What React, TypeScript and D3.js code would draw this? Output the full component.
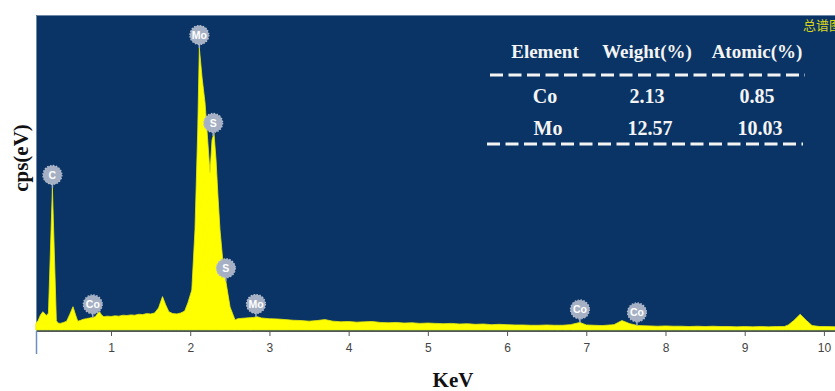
import React, { useEffect, useRef } from 'react';
import * as d3 from 'd3';

// EDS spectrum: [KeV, cps]
const spectrum: [number, number][] = [
  [0.05, 20], [0.08, 30], [0.11, 48], [0.14, 58], [0.17, 50], [0.19, 46], [0.21, 54],
  [0.26, 451], [0.31, 30], [0.33, 22], [0.36, 21], [0.4, 24],
  [0.44, 28], [0.48, 50], [0.52, 74], [0.55, 50], [0.58, 28], [0.61, 30], [0.65, 34],
  [0.69, 36], [0.73, 38], [0.77, 40], [0.8, 42], [0.83, 52], [0.855, 58], [0.88, 48],
  [0.91, 42], [0.95, 44], [1.0, 43], [1.05, 45], [1.1, 44], [1.15, 47], [1.2, 46],
  [1.25, 48], [1.3, 47], [1.35, 50], [1.4, 49], [1.45, 52], [1.5, 51], [1.55, 54],
  [1.6, 70], [1.65, 106], [1.69, 80], [1.73, 58], [1.78, 52], [1.83, 51], [1.88, 54],
  [1.93, 60], [1.97, 86], [2.02, 127], [2.06, 318], [2.095, 635], [2.115, 895],
  [2.15, 800], [2.187, 721], [2.25, 498], [2.275, 603], [2.3, 625], [2.326, 540],
  [2.351, 422], [2.376, 318], [2.414, 213], [2.461, 137], [2.503, 73], [2.566, 32],
  [2.6, 36], [2.7, 38], [2.8, 40], [2.85, 42], [2.9, 38], [3.0, 36], [3.1, 35],
  [3.2, 33], [3.3, 31], [3.4, 30], [3.5, 28], [3.6, 30], [3.7, 33], [3.8, 28],
  [3.9, 26], [4.0, 27], [4.1, 25], [4.2, 26], [4.3, 27], [4.4, 24], [4.5, 23],
  [4.6, 24], [4.7, 22], [4.8, 23], [4.9, 21], [5.0, 22], [5.1, 21], [5.2, 20],
  [5.3, 21], [5.4, 19], [5.5, 20], [5.6, 18], [5.7, 19], [5.8, 17], [5.9, 18],
  [6.0, 17], [6.1, 16], [6.2, 16], [6.3, 15], [6.4, 15], [6.5, 16], [6.6, 15],
  [6.7, 15], [6.8, 17], [6.92, 24], [7.0, 16], [7.1, 15], [7.2, 14], [7.35, 17],
  [7.45, 30], [7.55, 20], [7.65, 14], [7.8, 13], [7.9, 12], [8.0, 13], [8.1, 12],
  [8.2, 12], [8.3, 11], [8.4, 12], [8.5, 11], [8.6, 12], [8.7, 11], [8.8, 11],
  [8.9, 10], [9.0, 11], [9.1, 10], [9.2, 11], [9.3, 10], [9.4, 11], [9.5, 11],
  [9.55, 16], [9.62, 30], [9.7, 50], [9.78, 30], [9.85, 14], [9.95, 11], [10.05, 11],
  [10.15, 10],
];

const peakLabels = ['Mo', 'S', 'C', 'Co', 'S', 'Mo', 'Co', 'Co'];
const peakEnergies = [2.115, 2.29, 0.26, 0.77, 2.45, 2.83, 6.92, 7.64];

const xTicks = [1, 2, 3, 4, 5, 6, 7, 8, 9, 10];

const tableHeaders = ['Element', 'Weight(%)', 'Atomic(%)'];
const tableElements = ['Co', 'Mo'];
const weightPct = ['2.13', '12.57'];
const atomicPct = ['0.85', '10.03'];

const W = 835;
const H = 391;

const App: React.FC = () => {
  const svgRef = useRef<SVGSVGElement>(null);

  useEffect(() => {
    if (!svgRef.current) return;
    const svg = d3.select(svgRef.current);
    svg.selectAll('*').remove();

    const left = 36;
    const top = 15;
    const bottom = 331;

    const x = d3.scaleLinear().domain([0.053, 10.14]).range([left, W]);
    const y = d3.scaleLinear().domain([0, 1000]).range([bottom - 1, top]);

    // plot background
    svg.append('rect')
      .attr('x', left).attr('y', top)
      .attr('width', W - left).attr('height', bottom - top)
      .attr('fill', '#0a3466');
    svg.append('path')
      .attr('d', `M${left + 0.5},${bottom}V${top + 0.5}H${W}`)
      .attr('fill', 'none')
      .attr('stroke', '#6f87a8')
      .attr('stroke-width', 1);

    // spectrum
    const area = d3.area<[number, number]>()
      .x(d => x(d[0]))
      .y0(y(0))
      .y1(d => y(d[1]));
    svg.append('path')
      .datum(spectrum)
      .attr('d', area)
      .attr('fill', '#ffff00')
      .attr('stroke', '#e8ea10')
      .attr('stroke-width', 0.8);

    // axis
    const axisG = svg.append('g').attr('transform', `translate(0,${bottom})`);
    axisG.call(
      d3.axisBottom(x).tickValues(d3.range(1, 102).map(i => i / 10)).tickSize(3).tickFormat(() => '').tickSizeOuter(0)
    );
    axisG.call(
      d3.axisBottom(x).tickValues(xTicks).tickSize(5).tickSizeOuter(0).tickPadding(7)
        .tickFormat(d => String(d))
    );
    axisG.selectAll('path.domain').attr('stroke', '#555').attr('d', `M${left},0.5H${W}`);
    axisG.selectAll('line').attr('stroke', '#555');
    axisG.selectAll('text')
      .attr('fill', '#444')
      .style('font-family', 'Arial, "Liberation Sans", sans-serif')
      .style('font-size', '12px');

    svg.append('line')
      .attr('x1', left + 0.5).attr('x2', left + 0.5)
      .attr('y1', bottom).attr('y2', bottom + 23)
      .attr('stroke', '#6f8fbf')
      .attr('stroke-width', 1.5);

    // peak badges
    const bis = d3.bisector((d: [number, number]) => d[0]).left;
    const valueAt = (k: number) => {
      const i = Math.max(1, Math.min(spectrum.length - 1, bis(spectrum, k)));
      const a = spectrum[i - 1];
      const b = spectrum[i];
      const t = (k - a[0]) / (b[0] - a[0]);
      return a[1] + (b[1] - a[1]) * t;
    };
    const badges = svg.append('g')
      .selectAll('g')
      .data(peakLabels.map((label, i) => ({ label, k: peakEnergies[i] })))
      .enter()
      .append('g')
      .attr('transform', d => `translate(${x(d.k)},${y(valueAt(d.k)) - 13})`);
    badges.append('line')
      .attr('x1', 0).attr('x2', 0).attr('y1', 0).attr('y2', 13)
      .attr('stroke', '#a6b0c4').attr('stroke-width', 1.5);
    badges.append('circle')
      .attr('r', 9.5)
      .attr('fill', '#a6b0c4')
      .attr('stroke', '#b6bfd0')
      .attr('stroke-width', 1.2)
      .attr('stroke-dasharray', '1.5,1.5');
    badges.append('text')
      .attr('text-anchor', 'middle')
      .attr('dy', '0.36em')
      .attr('fill', '#ffffff')
      .style('font-family', 'Arial, "Liberation Sans", sans-serif')
      .style('font-weight', 'bold')
      .style('font-size', '10.5px')
      .text(d => d.label);

    // chart title (cut by the right edge, as in the source)
    svg.append('text')
      .attr('x', 803).attr('y', 30)
      .attr('fill', '#d9d61a')
      .style('font-family', '"Noto Sans CJK SC", sans-serif')
      .style('font-size', '13px')
      .text('总谱图');

    // quantification table
    const serif = '"Liberation Serif", "Times New Roman", serif';
    const cols = [545, 647, 757];
    svg.append('g')
      .selectAll('text')
      .data(tableHeaders)
      .enter()
      .append('text')
      .attr('x', (_, i) => cols[i])
      .attr('y', 58)
      .attr('text-anchor', 'middle')
      .attr('fill', '#f4f4f4')
      .style('font-family', serif)
      .style('font-weight', 'bold')
      .style('font-size', '19px')
      .text(d => d);

    const rows = tableElements.map((el, i) => [el, weightPct[i], atomicPct[i]]);
    const rowY = [103, 135];
    rows.forEach((row, r) => {
      svg.append('g')
        .selectAll('text')
        .data(row)
        .enter()
        .append('text')
        .attr('x', (_, i) => cols[i] + (r === 1 ? 3 : 0))
        .attr('y', rowY[r])
        .attr('text-anchor', 'middle')
        .attr('fill', '#f4f4f4')
        .style('font-family', serif)
        .style('font-weight', 'bold')
        .style('font-size', '20px')
        .text(d => d);
    });

    [[490, 805, 75], [487, 803, 144]].forEach(([x1, x2, yy]) => {
      svg.append('line')
        .attr('x1', x1).attr('x2', x2)
        .attr('y1', yy).attr('y2', yy)
        .attr('stroke', '#f4f4f4')
        .attr('stroke-width', 3)
        .attr('stroke-dasharray', '13,5.5');
    });

    // axis titles
    svg.append('text')
      .attr('transform', `translate(28,158) rotate(-90)`)
      .attr('text-anchor', 'middle')
      .attr('fill', '#111')
      .style('font-family', serif)
      .style('font-weight', 'bold')
      .style('font-size', '21px')
      .text('cps(eV)');

    svg.append('text')
      .attr('x', 453).attr('y', 387)
      .attr('text-anchor', 'middle')
      .attr('fill', '#111')
      .style('font-family', serif)
      .style('font-weight', 'bold')
      .style('font-size', '21px')
      .text('KeV');
  }, []);

  return (
    <div style={{ position: 'absolute', left: 0, top: 0 }}>
      <svg ref={svgRef} width={W} height={H} style={{ display: 'block', background: '#fff' }} />
    </div>
  );
};

export default App;
